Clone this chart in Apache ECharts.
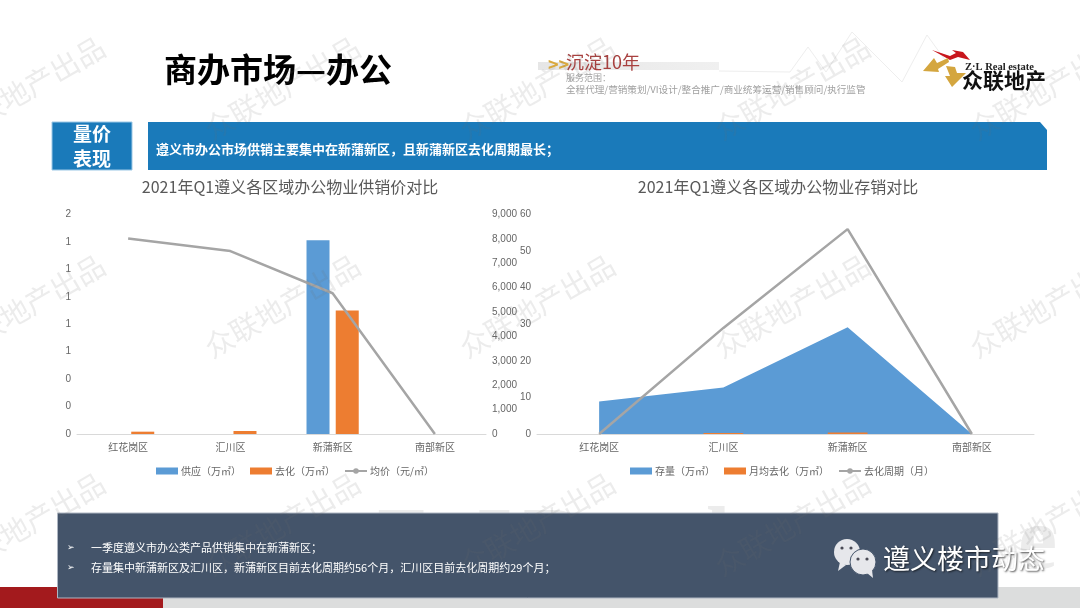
<!DOCTYPE html>
<html>
<head>
<meta charset="utf-8">
<style>html,body{margin:0;padding:0;background:#fff}#c{width:1080px;height:608px}</style>
<script src="https://cdn.jsdelivr.net/npm/echarts@6/dist/echarts.min.js"></script>
</head>
<body>
<div id="c"></div>
<script>
var districts = ['红花岗区', '汇川区', '新蒲新区', '南部新区'];
var supply = [0, 0, 1.413, 0];
var absorbed = [0.017, 0.022, 0.90, 0];
var avgPrice = [8020, 7500, 5770, 0];
var stock = [8.9, 12.7, 29.2, 0];
var monthlyAbsorbed = [0, 0.3, 0.4, 0];
var cyclePeriod = [0, 29, 56, 0];
var leftTitle = '2021年Q1遵义各区域办公物业供销价对比';
var rightTitle = '2021年Q1遵义各区域办公物业存销对比';
var bullets = ['一季度遵义市办公类产品供销集中在新蒲新区；', '存量集中新蒲新区及汇川区，新蒲新区目前去化周期约56个月，汇川区目前去化周期约29个月；'];

var FONT = '"Noto Sans CJK SC","Noto Sans",sans-serif';
var GREY = '#666666', BLUE = '#5b9bd5', ORANGE = '#ed7d31', LINE = '#a5a5a5', HEAD = '#1a7aba';

function txt(x, y, text, size, color, opt) {
  opt = opt || {};
  return {
    type: 'text', x: x, y: y, z: opt.z || 20, rotation: opt.rotation || 0,
    style: Object.assign({
      text: text, fill: color, textAlign: opt.align || 'left', textVerticalAlign: 'middle',
      font: (opt.weight || 'normal') + ' ' + size + 'px ' + (opt.family || FONT)
    }, opt.style || {})
  };
}
function rect(x, y, w, h, fill, z, stroke) {
  return { type: 'rect', z: z || 1, shape: { x: x, y: y, width: w, height: h }, style: { fill: fill, stroke: stroke || null, lineWidth: stroke ? 1 : 0 } };
}
function poly(points, fill, z) {
  return { type: 'polygon', z: z || 20, shape: { points: points }, style: { fill: fill } };
}
function polyline(points, stroke, z) {
  return { type: 'polyline', z: z || 1, shape: { points: points }, style: { stroke: stroke, lineWidth: 1, fill: null } };
}
function circle(cx, cy, r, fill, z, stroke) {
  return { type: 'circle', z: z, shape: { cx: cx, cy: cy, r: r }, style: { fill: fill, stroke: stroke || null, lineWidth: stroke ? 1 : 0 } };
}

var g = [];
// faint big letters behind the panel
[['Z', 372], ['L', 478], ['R', 523], ['l', 706], ['e', 1018]].forEach(function (p) {
  g.push(txt(p[1], 545, p[0], 88, '#ececec', { z: 1, weight: 'bold', family: '"Liberation Serif",serif' }));
});
// footer
g.push(rect(0, 587, 163, 21, '#a31a1d', 2));
g.push(rect(163, 587, 917, 21, '#dcdddd', 2));
g.push(rect(57.5, 513, 940.5, 85, '#44546a', 3, '#aeb6c2'));
// header
g.push(txt(164, 69, '商办市场—办公', 33, '#000000', { weight: 'bold' }));
g.push(rect(52, 122, 80, 48, HEAD, 3, '#9cc8e6'));
g.push(txt(92, 134, '量价', 19, '#ffffff', { weight: 'bold', align: 'center' }));
g.push(txt(92, 159, '表现', 19, '#ffffff', { weight: 'bold', align: 'center' }));
g.push(poly([[148, 122], [1040, 122], [1047, 130], [1047, 170], [148, 170]], HEAD, 3));
g.push(txt(156, 149, '遵义市办公市场供销主要集中在新蒲新区，且新蒲新区去化周期最长；', 13, '#ffffff', { weight: 'bold' }));
// slogan
g.push({
  type: 'rect', z: 1, shape: { x: 538, y: 62, width: 181, height: 8 },
  style: { fill: new echarts.graphic.LinearGradient(0, 0, 1, 0, [{ offset: 0, color: '#e6e6e6' }, { offset: 1, color: '#f0f0f0' }]) }
});
g.push(polyline([[719, 71], [790, 72], [808, 47], [826, 72], [852, 32], [902, 82], [927, 35], [945, 60]], '#eeeeee', 1));
g.push(txt(548, 64, '>>', 18, '#d9a93f', { weight: 'bold' }));
g.push(txt(566, 62, '沉淀10年', 18, '#a8403f'));
g.push(txt(566, 78, '服务范围：', 9, '#a0a0a0'));
g.push(txt(566, 89, '全程代理/营销策划/VI设计/整合推广/商业统筹运营/销售顾问/执行监管', 9.6, '#a0a0a0'));
// logo
g.push(poly([[932, 50], [950, 56], [956, 53], [952, 50], [963, 52], [970, 60], [958, 57], [950, 60]], '#c8161d', 6));
g.push(poly([[923, 71], [934, 58], [937, 63], [948, 58], [949, 62], [938, 69], [939, 72]], '#d4a63f', 6));
g.push(poly([[946, 66], [955, 67], [957, 73], [966, 73], [952, 87], [945, 76], [950, 76]], '#d4a63f', 6));
g.push(txt(965, 67, 'Z·L Real estate', 10.5, '#222222', { weight: 'bold', family: '"Liberation Serif",serif' }));
g.push(txt(962, 80, '众联地产', 21, '#111111', { weight: 'bold' }));
// bullet text
bullets.forEach(function (b, i) {
  var y = 548 + i * 20;
  g.push(txt(67, y, '➢', 9, '#ffffff', { family: '"DejaVu Sans",sans-serif' }));
  g.push(txt(91, y, b, 11, '#ffffff'));
});
// wechat mark
g.push(circle(847, 552, 13, '#e6e7eb', 21));
g.push(poly([[840, 562], [846, 565], [838, 571]], '#e6e7eb', 21));
g.push(circle(863, 562, 13, '#e6e7eb', 22, '#44546a'));
g.push(poly([[867, 573], [872, 570], [873, 578]], '#e6e7eb', 22));
[[842, 548], [851, 548], [858, 559], [867, 559]].forEach(function (p) { g.push(circle(p[0], p[1], 1.6, '#4a4a55', 23)); });
g.push(txt(883, 559, '遵义楼市动态', 27, '#ffffff', { z: 24, style: { textShadowColor: 'rgba(0,0,0,0.65)', textShadowBlur: 2, textShadowOffsetX: 1, textShadowOffsetY: 1 } }));
// watermarks
for (var r = 0; r < 3; r++) {
  for (var k = 0; k < 5; k++) {
    g.push(txt(27 + k * 255, 88 + r * 218, '众联地产出品', 29, 'rgba(110,110,110,0.13)', { z: 100, align: 'center', rotation: Math.PI / 6 }));
  }
}

function catAxis(idx) {
  return {
    type: 'category', gridIndex: idx, data: districts,
    axisLine: { show: true, lineStyle: { color: '#d9d9d9', width: 1 } },
    axisTick: { show: false },
    axisLabel: { color: GREY, fontSize: 10, fontFamily: FONT, margin: 8, interval: 0 }
  };
}
function valAxis(idx, max, interval, pos, fmt) {
  return {
    type: 'value', gridIndex: idx, min: 0, max: max, interval: interval, position: pos,
    axisLine: { show: false }, axisTick: { show: false }, splitLine: { show: false },
    axisLabel: { color: GREY, fontSize: 10, fontFamily: '"Liberation Sans",' + FONT, margin: 6, formatter: fmt }
  };
}
function leg(left, items) {
  return {
    left: left, top: 466, padding: 0, itemGap: 9, itemWidth: 22, itemHeight: 7, selectedMode: false,
    data: items, textStyle: { color: GREY, fontSize: 10, fontFamily: FONT, padding: [0, 0, 0, -2] }
  };
}
function chartTitle(x, text) {
  return { text: text, left: x, top: 179, textAlign: 'center', padding: 0, textStyle: { color: '#595959', fontSize: 16, fontWeight: 'normal', fontFamily: FONT } };
}

var chart = echarts.init(document.getElementById('c'), null, { renderer: 'canvas', width: 1080, height: 608 });
chart.setOption({
  animation: false,
  backgroundColor: '#ffffff',
  graphic: { elements: g },
  title: [chartTitle(290, leftTitle), chartTitle(778, rightTitle)],
  legend: [
    leg(156, [{ name: '供应（万㎡）', icon: 'rect' }, { name: '去化（万㎡）', icon: 'rect' }, { name: '均价（元/㎡）' }]),
    leg(630, [{ name: '存量（万㎡）', icon: 'rect' }, { name: '月均去化（万㎡）', icon: 'rect' }, { name: '去化周期（月）' }])
  ],
  grid: [
    { left: 77, width: 409, top: 214.5, height: 219.5 },
    { left: 537, width: 497, top: 214.5, height: 219.5 }
  ],
  xAxis: [catAxis(0), catAxis(1)],
  yAxis: [
    valAxis(0, 1.6, 0.2, 'left', function (v) { return String(Math.round(v)); }),
    valAxis(0, 9000, 1000, 'right'),
    valAxis(1, 60, 10, 'left')
  ],
  series: [
    { name: '供应（万㎡）', type: 'bar', xAxisIndex: 0, yAxisIndex: 0, data: supply, barWidth: '22.5%', barGap: '27%', itemStyle: { color: BLUE } },
    { name: '去化（万㎡）', type: 'bar', xAxisIndex: 0, yAxisIndex: 0, data: absorbed, barWidth: '22.5%', itemStyle: { color: ORANGE } },
    { name: '均价（元/㎡）', type: 'line', xAxisIndex: 0, yAxisIndex: 1, data: avgPrice, showSymbol: false, symbol: 'none', z: 5, lineStyle: { color: LINE, width: 2.5 }, itemStyle: { color: LINE } },
    { name: '存量（万㎡）', type: 'line', xAxisIndex: 1, yAxisIndex: 2, data: stock, showSymbol: false, symbol: 'none', lineStyle: { width: 0, color: BLUE }, itemStyle: { color: BLUE }, areaStyle: { color: BLUE, opacity: 1 } },
    { name: '月均去化（万㎡）', type: 'bar', xAxisIndex: 1, yAxisIndex: 2, data: monthlyAbsorbed, barWidth: '32%', z: 4, itemStyle: { color: ORANGE } },
    { name: '去化周期（月）', type: 'line', xAxisIndex: 1, yAxisIndex: 2, data: cyclePeriod, showSymbol: false, symbol: 'none', z: 5, lineStyle: { color: LINE, width: 2.5 }, itemStyle: { color: LINE } }
  ]
});
</script>
</body>
</html>
